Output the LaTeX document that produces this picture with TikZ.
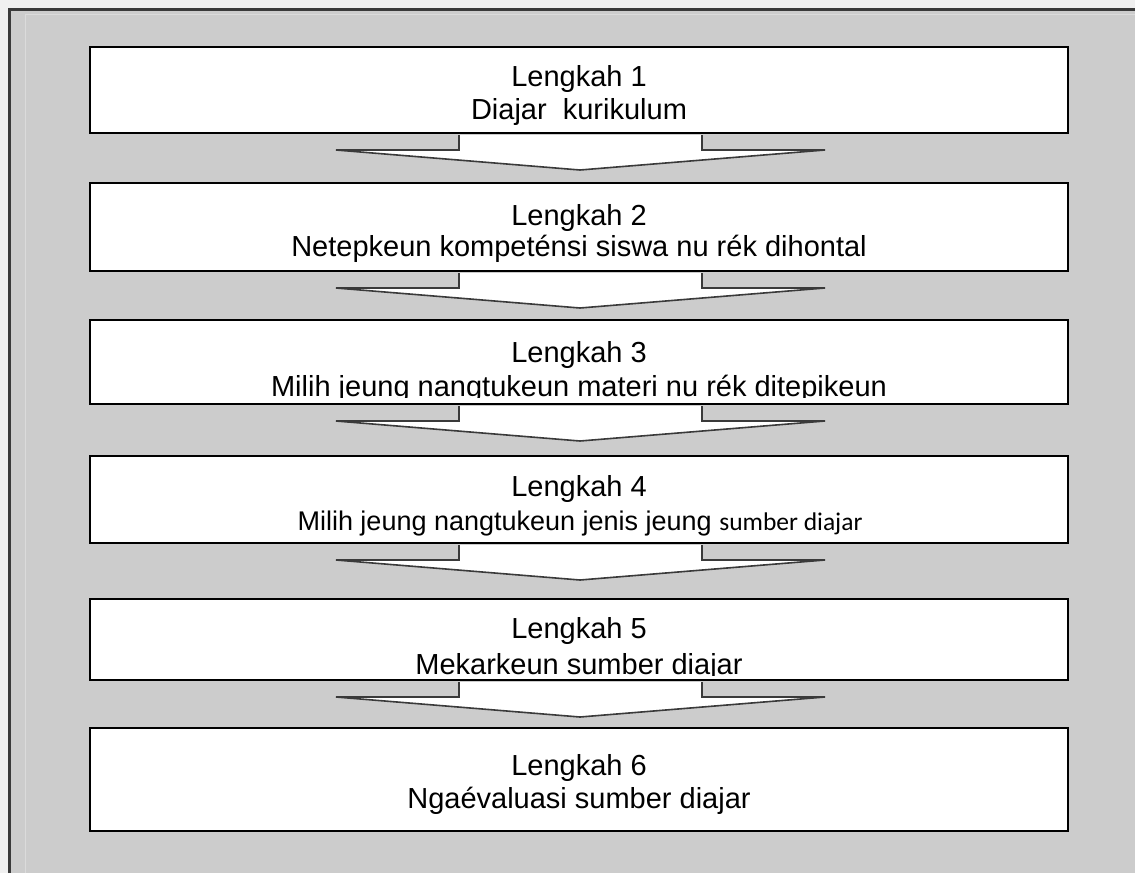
\documentclass[tikz,border=0pt]{standalone}
\usepackage{fontspec}
\setmainfont{Liberation Sans}
\newfontfamily\calibfont{Carlito}
\usetikzlibrary{calc}
\definecolor{bggray}{HTML}{CCCCCC}
\definecolor{edgegray}{HTML}{3A3A3A}
\begin{document}
\begin{tikzpicture}[x=1pt,y=-1pt,
  stepbox/.style={draw=black, line width=2pt, fill=white, minimum width=978pt, inner sep=0pt},
  steptext/.style={anchor=base, inner sep=0pt, font=\fontsize{29}{33}\selectfont},
  blockarrow/.style={draw=edgegray, line width=1.6pt, fill=white, line join=miter}]
\useasboundingbox (0,0) rectangle (1135,873);
\fill[white!94!black] (0,0) rectangle (1135,873);
\fill[bggray] (9,9) rectangle (1135,873);
\draw[line width=1pt, white!86!black] (25,873) -- (25,14) -- (1135,14);
\draw[line width=3pt, edgegray] (9,873) -- (9,9) -- (1135,9);
% boxes
\node[stepbox, minimum height=86pt]  (b1) at (579,90) {};
\node[stepbox, minimum height=88pt]  (b2) at (579,227) {};
\node[stepbox, minimum height=84pt]  (b3) at (579,362) {};
\node[stepbox, minimum height=87pt]  (b4) at (579,499.5) {};
\node[stepbox, minimum height=81pt]  (b5) at (579,639.5) {};
\node[stepbox, minimum height=103pt] (b6) at (579,779.5) {};
% block arrows
\foreach \u/\l in {b1/b2,b2/b3,b3/b4,b4/b5,b5/b6}{
  \coordinate (tip-\u) at ($(\u.south)+(1,36)$);
  \filldraw[blockarrow] ($(\u.south)+(-120,1)$) -- ($(\u.south)+(-120,16)$) -- ($(\u.south)+(-243,16)$)
     -- (tip-\u) -- ($(\u.south)+(246,16)$) -- ($(\u.south)+(123,16)$) -- ($(\u.south)+(123,1)$);
}
% texts
\node[steptext] (t1a) at (579,86) {Lengkah 1};
\node[steptext] (t1b) at (579,119) {Diajar\ \ kurikulum};
\node[steptext] (t2a) at (579,225) {Lengkah 2};
\node[steptext] (t2b) at (579,256) {Netepkeun kompeténsi siswa nu rék dihontal};
\begin{scope}
\clip (90,322) rectangle (1068,397);
\node[steptext] (t3a) at (579,362) {Lengkah 3};
\node[steptext] (t3b) at (579,396) {Milih jeung nangtukeun materi nu rék ditepikeun};
\end{scope}
\node[steptext] (t4a) at (579,496) {Lengkah 4};
\node[steptext, font=\fontsize{27}{33}\selectfont] (t4b) at (580,530) {Milih jeung nangtukeun jenis jeung {\calibfont\fontsize{25.5}{33}\selectfont sumber diajar}};
\begin{scope}
\clip (90,601) rectangle (1068,675);
\node[steptext] (t5a) at (579,638) {Lengkah 5};
\node[steptext] (t5b) at (579,674) {Mekarkeun sumber diajar};
\end{scope}
\node[steptext] (t6a) at (579,775) {Lengkah 6};
\node[steptext] (t6b) at (579,808) {Ngaévaluasi sumber diajar};
\end{tikzpicture}
\end{document}
